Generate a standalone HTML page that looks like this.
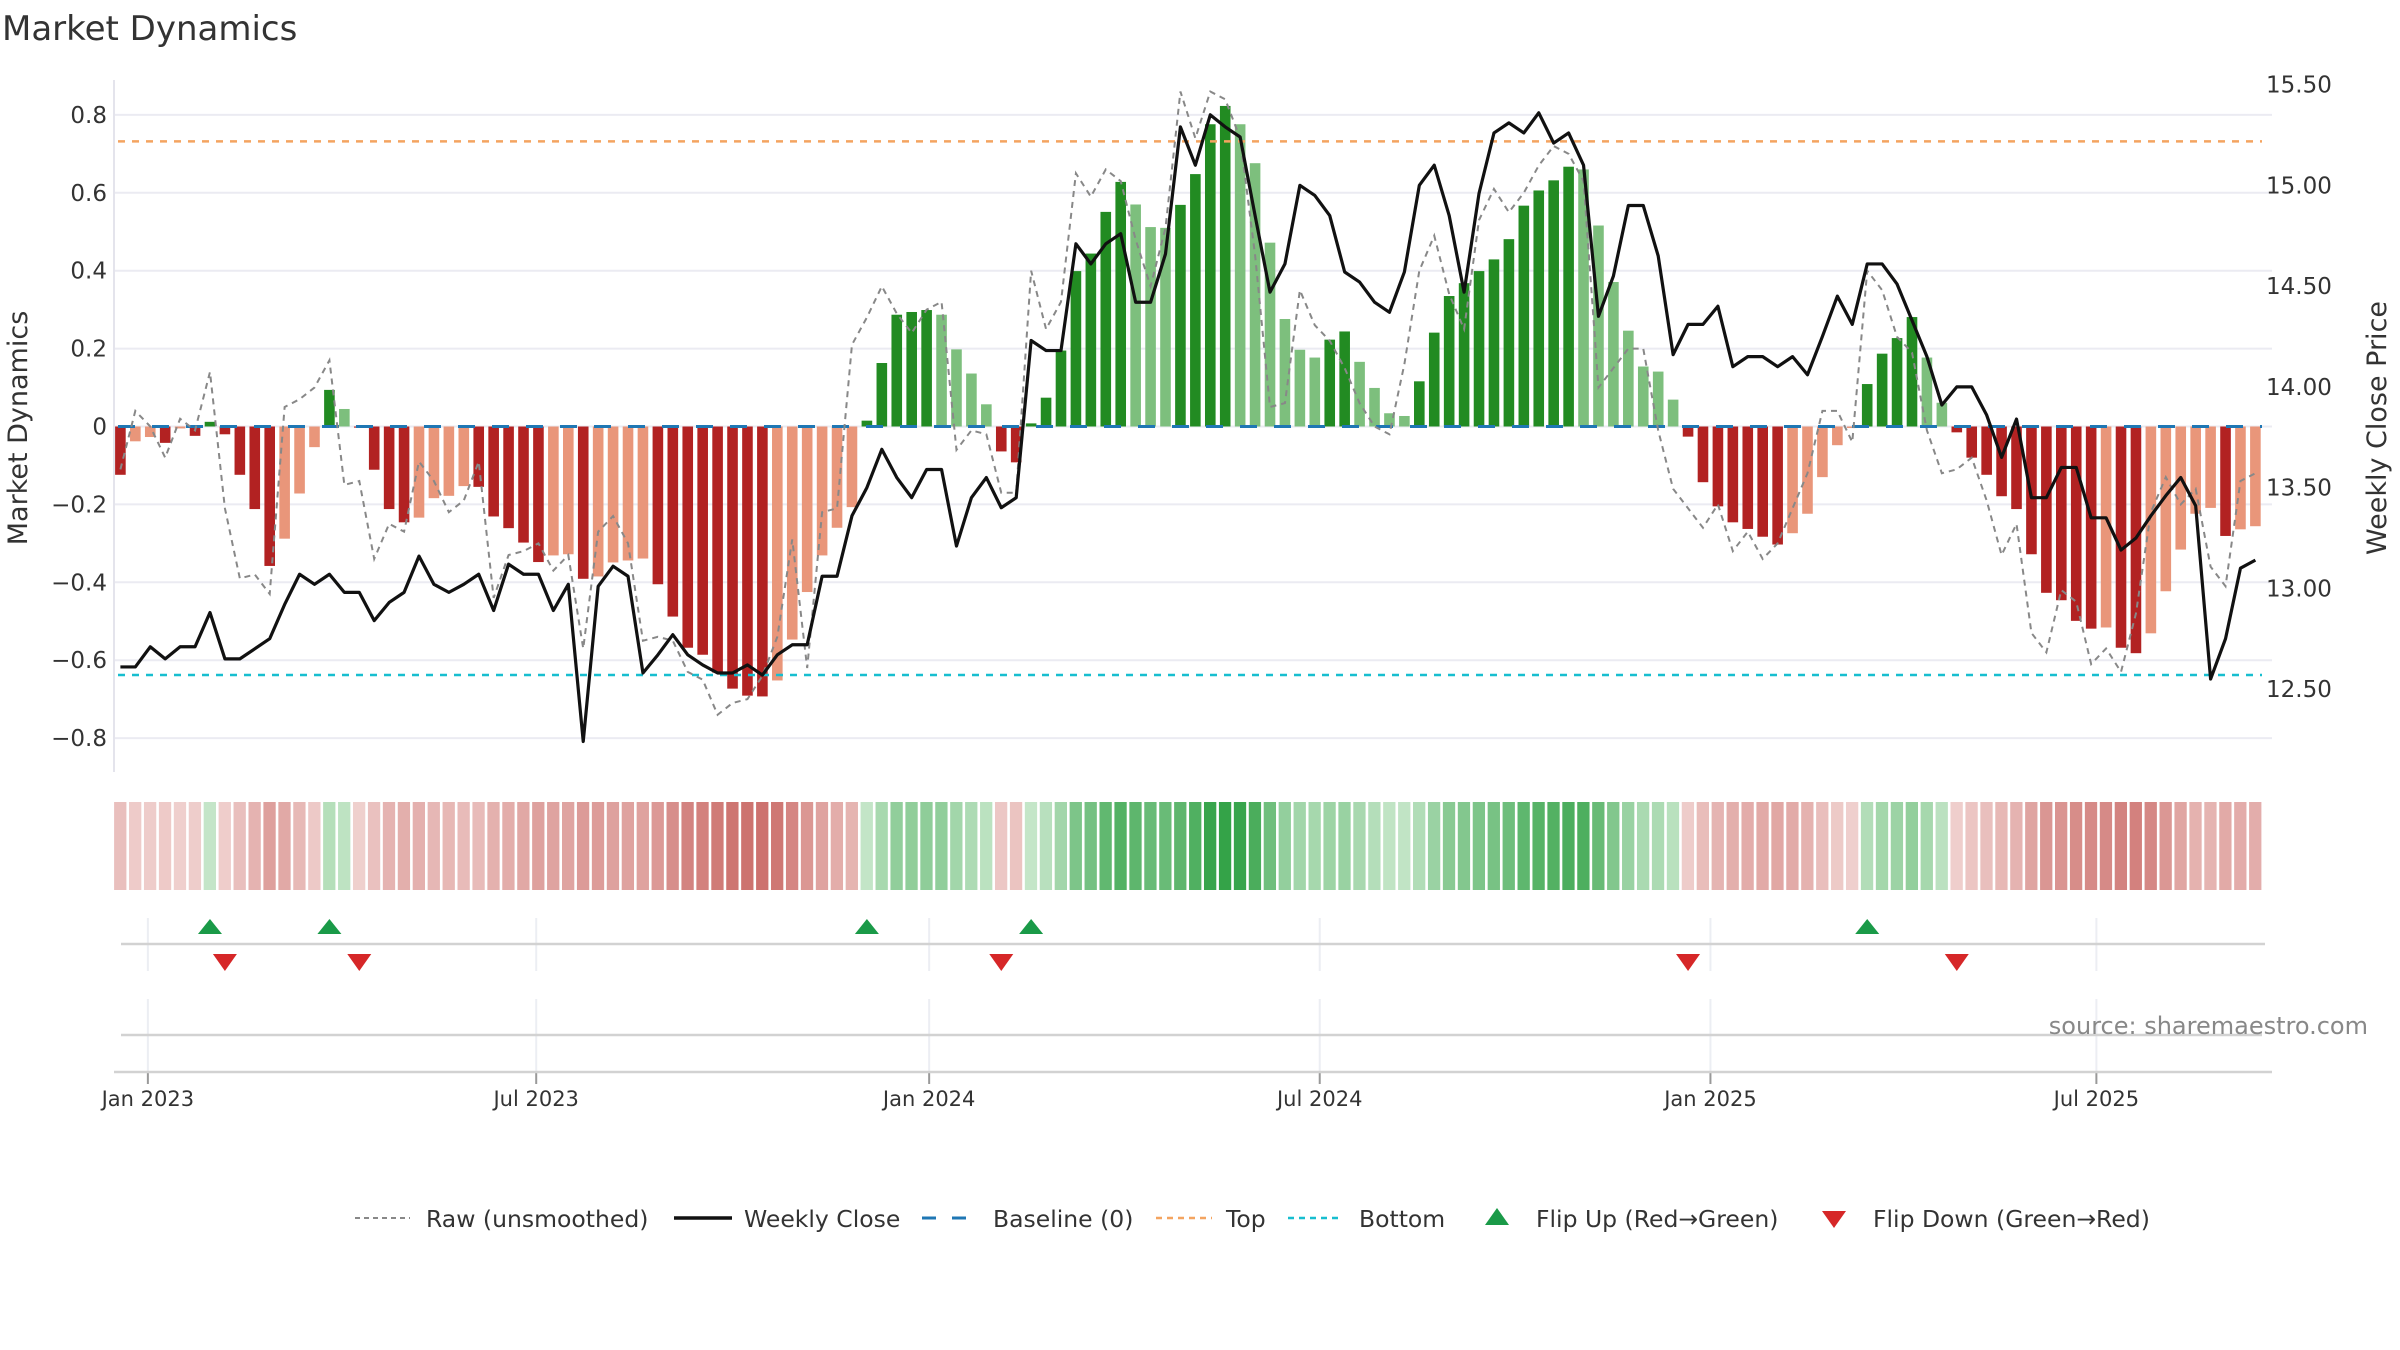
<!DOCTYPE html>
<html><head><meta charset="utf-8"><title>Market Dynamics</title>
<style>
html,body{margin:0;padding:0;background:#fff;}
svg{display:block;font-family:"DejaVu Sans","Liberation Sans",sans-serif;}
</style></head>
<body>
<svg id="chart" width="2400" height="1350" viewBox="0 0 2400 1350" xmlns="http://www.w3.org/2000/svg">
<text x="2" y="40" font-size="34" fill="#333">Market Dynamics</text>
<g id="grid"></g>
<g id="bars"></g>
<g id="lines"></g>
<g id="axes"></g>
<g id="heat"></g>
<g id="flips"></g>
<g id="legend"></g>
<text x="2368" y="1034" font-size="24" fill="#888" text-anchor="end">source: sharemaestro.com</text>
</svg>
<script>
const dynamics = [-0.124,-0.038,-0.027,-0.042,-0.005,-0.024,0.012,-0.02,-0.124,-0.212,-0.358,-0.288,-0.172,-0.053,0.094,0.045,-0.003,-0.111,-0.212,-0.246,-0.234,-0.184,-0.178,-0.153,-0.155,-0.231,-0.261,-0.298,-0.348,-0.331,-0.328,-0.391,-0.385,-0.349,-0.344,-0.339,-0.405,-0.488,-0.568,-0.586,-0.632,-0.673,-0.691,-0.693,-0.652,-0.547,-0.425,-0.331,-0.26,-0.207,0.015,0.163,0.287,0.294,0.299,0.287,0.198,0.136,0.057,-0.064,-0.092,0.008,0.074,0.195,0.399,0.444,0.551,0.628,0.57,0.512,0.51,0.569,0.648,0.776,0.823,0.776,0.676,0.472,0.276,0.197,0.177,0.223,0.244,0.166,0.099,0.034,0.027,0.116,0.241,0.335,0.368,0.399,0.429,0.481,0.567,0.606,0.632,0.667,0.66,0.516,0.371,0.246,0.154,0.141,0.069,-0.026,-0.143,-0.205,-0.246,-0.263,-0.283,-0.303,-0.274,-0.224,-0.13,-0.048,-0.004,0.109,0.187,0.227,0.281,0.177,0.061,-0.015,-0.08,-0.124,-0.179,-0.212,-0.328,-0.427,-0.446,-0.499,-0.519,-0.516,-0.568,-0.582,-0.531,-0.423,-0.316,-0.224,-0.209,-0.281,-0.264,-0.256];
const rawValues = [-0.11,0.04,0,-0.08,0.02,-0.01,0.14,-0.21,-0.39,-0.38,-0.43,0.05,0.07,0.1,0.17,-0.15,-0.14,-0.34,-0.25,-0.27,-0.09,-0.14,-0.22,-0.19,-0.09,-0.44,-0.33,-0.32,-0.3,-0.37,-0.33,-0.57,-0.27,-0.23,-0.3,-0.55,-0.54,-0.55,-0.63,-0.65,-0.74,-0.71,-0.7,-0.64,-0.54,-0.29,-0.62,-0.22,-0.21,0.21,0.28,0.36,0.29,0.24,0.3,0.32,-0.06,-0.01,-0.02,-0.17,-0.17,0.4,0.25,0.32,0.65,0.59,0.66,0.63,0.48,0.36,0.51,0.86,0.74,0.86,0.84,0.74,0.44,0.05,0.06,0.35,0.26,0.22,0.15,0.06,0,-0.02,0.16,0.4,0.49,0.34,0.25,0.53,0.61,0.55,0.6,0.67,0.72,0.7,0.63,0.1,0.15,0.2,0.2,-0.01,-0.16,-0.21,-0.26,-0.2,-0.32,-0.27,-0.34,-0.3,-0.21,-0.12,0.04,0.04,-0.04,0.4,0.35,0.23,0.19,-0.01,-0.12,-0.11,-0.08,-0.19,-0.33,-0.25,-0.53,-0.58,-0.42,-0.45,-0.61,-0.57,-0.63,-0.48,-0.22,-0.13,-0.2,-0.16,-0.36,-0.41,-0.14,-0.12];
const closePrices = [12.61,12.61,12.71,12.65,12.71,12.71,12.88,12.65,12.65,12.7,12.75,12.92,13.07,13.02,13.07,12.98,12.98,12.84,12.93,12.98,13.16,13.02,12.98,13.02,13.07,12.89,13.12,13.07,13.07,12.89,13.02,12.24,13.01,13.11,13.06,12.58,12.67,12.77,12.67,12.62,12.58,12.58,12.62,12.57,12.67,12.72,12.72,13.06,13.06,13.36,13.5,13.69,13.55,13.45,13.59,13.59,13.21,13.45,13.55,13.4,13.45,14.23,14.18,14.18,14.71,14.61,14.71,14.76,14.42,14.42,14.66,15.29,15.1,15.35,15.29,15.24,14.85,14.47,14.61,15,14.95,14.85,14.57,14.52,14.42,14.37,14.57,15,15.1,14.85,14.47,14.96,15.26,15.31,15.26,15.36,15.21,15.26,15.1,14.35,14.55,14.9,14.9,14.65,14.16,14.31,14.31,14.4,14.1,14.15,14.15,14.1,14.15,14.06,14.25,14.45,14.31,14.61,14.61,14.51,14.33,14.15,13.91,14,14,13.86,13.65,13.84,13.45,13.45,13.6,13.6,13.35,13.35,13.19,13.25,13.36,13.46,13.55,13.41,12.55,12.75,13.1,13.14];
const leftTicks = [0.8,0.6,0.4,0.2,0,-0.2,-0.4,-0.6,-0.8];
const leftTickLabels = ["0.8","0.6","0.4","0.2","0","\u22120.2","\u22120.4","\u22120.6","\u22120.8"];
const rightTicks = [15.5,15.0,14.5,14.0,13.5,13.0,12.5];
const rightTickLabels = ["15.50","15.00","14.50","14.00","13.50","13.00","12.50"];
const dateTickIdx = [1.84,27.85,54.17,80.33,106.5,132.35];
const dateTickLabels = ["Jan 2023","Jul 2023","Jan 2024","Jul 2024","Jan 2025","Jul 2025"];
const topLevel = 0.732;
const bottomLevel = -0.638;

const NS="http://www.w3.org/2000/svg";
function mk(tag,attrs,parent){const e=document.createElementNS(NS,tag);for(const k in attrs)e.setAttribute(k,attrs[k]);parent.appendChild(e);return e;}
const X0=120.4, DX=14.93;
function xs(i){return X0+i*DX;}
function yl(v){return 426.5-v*389.5;}
function yr(p){return 84.6+(15.5-p)*201.5;}

const grid=document.getElementById('grid');
leftTicks.forEach((t,k)=>{
  const l=mk('line',{x1:114,x2:2272,y1:yl(t),y2:yl(t),stroke:'#ebebf2','stroke-width':2},grid);
  
  
});
const axes=document.getElementById('axes');
const sp=mk('line',{x1:114,x2:114,y1:80,y2:772,stroke:'#e4e4ec','stroke-width':2},axes);


leftTicks.forEach((t,k)=>{
  const tx=mk('text',{x:107,y:yl(t)+8,'font-size':23,fill:'#333','text-anchor':'end'},axes);
  tx.textContent=leftTickLabels[k];
  
  
});
rightTicks.forEach((t,k)=>{
  const tx=mk('text',{x:2266,y:yr(t)+8,'font-size':23,fill:'#333'},axes);
  tx.textContent=rightTickLabels[k];
  
  
});
const lt=mk('text',{x:0,y:0,'font-size':27,fill:'#333','text-anchor':'middle',transform:'translate(27,428) rotate(-90)'},axes);
lt.textContent='Market Dynamics';


const rt=mk('text',{x:0,y:0,'font-size':27,fill:'#333','text-anchor':'middle',transform:'translate(2386,428) rotate(-90)'},axes);
rt.textContent='Weekly Close Price';



const bars=document.getElementById('bars');
dynamics.forEach((v,i)=>{
  const prev=i>0?dynamics[i-1]:0;
  const strong=(Math.sign(v)!==Math.sign(prev))||Math.abs(v)>=Math.abs(prev);
  let c;
  if(v>=0)c=strong?'#228b22':'#7dbf7d'; else c=strong?'#b22222':'#e9967a';
  const y0=yl(0),y1=yl(v);
  const r=mk('rect',{x:xs(i)-5.3,width:10.6,y:Math.min(y0,y1),height:Math.max(0.5,Math.abs(y1-y0)),fill:c},bars);
  
  
});

const lines=document.getElementById('lines');
const tl=mk('line',{x1:118,x2:2262,y1:yl(topLevel),y2:yl(topLevel),stroke:'#f4a460','stroke-width':2.5,'stroke-dasharray':'7 7'},lines);


const bl=mk('line',{x1:118,x2:2262,y1:yl(bottomLevel),y2:yl(bottomLevel),stroke:'#17becf','stroke-width':2.5,'stroke-dasharray':'7 7'},lines);


const base=mk('line',{x1:118,x2:2262,y1:yl(0),y2:yl(0),stroke:'#1f77b4','stroke-width':3,'stroke-dasharray':'17 17'},lines);


const rawP=mk('polyline',{points:rawValues.map((v,i)=>xs(i)+','+yl(v)).join(' '),fill:'none',stroke:'#888','stroke-width':2,'stroke-dasharray':'6 5'},lines);


const cl=mk('polyline',{points:closePrices.map((p,i)=>xs(i)+','+yr(p)).join(' '),fill:'none',stroke:'#111','stroke-width':3.2,'stroke-linejoin':'round'},lines);



const heat=document.getElementById('heat');
function mix(a,b,t){return 'rgb('+a.map((x,k)=>Math.round(x+(b[k]-x)*t)).join(',')+')';}
dynamics.forEach((v,i)=>{
  const t=Math.min(1,Math.abs(v)/0.8);
  const c=v>=0?mix([214,238,216],[52,163,72],0.1+0.9*t):mix([244,220,218],[200,100,96],0.1+0.9*t);
  const r=mk('rect',{x:xs(i)-6.3,width:12.3,y:802,height:88,fill:c},heat);
  
  
});

const fl=document.getElementById('flips');
dateTickIdx.forEach((d,k)=>{
  const x=xs(d);
  const g1=mk('line',{x1:x,x2:x,y1:918,y2:971,stroke:'#eceef3','stroke-width':2},fl);
  
  
  const g2=mk('line',{x1:x,x2:x,y1:999,y2:1072,stroke:'#eceef3','stroke-width':2},fl);
  
  
  const tk=mk('line',{x1:x,x2:x,y1:1072,y2:1084,stroke:'#999','stroke-width':2},fl);
  
  
  const tx=mk('text',{x:x,y:1106,'font-size':21,fill:'#333','text-anchor':'middle'},fl);
  tx.textContent=dateTickLabels[k];
  
  
});
[[944,2265],[1035,2262],[1072,2272]].forEach(([y,x2],k)=>{
  const l=mk('line',{x1:k==2?114:121,x2:x2,y1:y,y2:y,stroke:'#d2d2d2','stroke-width':2.5},fl);
  
  
});
for(let i=1;i<dynamics.length;i++){
  const a=dynamics[i-1],b=dynamics[i];
  if(a<0&&b>=0){
    const x=xs(i);
    const t=mk('polygon',{points:(x-12)+',934 '+(x+12)+',934 '+x+',919',fill:'#1a9a48'},fl);
    
    
  } else if(a>=0&&b<0){
    const x=xs(i);
    const t=mk('polygon',{points:(x-12)+',954 '+(x+12)+',954 '+x+',971',fill:'#d62728'},fl);
    
    
  }
}

const lg=document.getElementById('legend');
function legText(x,s){const t=mk('text',{x:x,y:1227,'font-size':23.5,fill:'#333'},lg);t.textContent=s;}
let e;
e=mk('line',{x1:355,x2:410,y1:1218,y2:1218,stroke:'#888','stroke-width':2,'stroke-dasharray':'5 4'},lg);


legText(426,'Raw (unsmoothed)');
e=mk('line',{x1:674,x2:732,y1:1218,y2:1218,stroke:'#111','stroke-width':3.5},lg);


legText(744,'Weekly Close');
e=mk('line',{x1:922,x2:980,y1:1218,y2:1218,stroke:'#1f77b4','stroke-width':3,'stroke-dasharray':'14 16'},lg);


legText(993,'Baseline (0)');
e=mk('line',{x1:1156,x2:1212,y1:1218,y2:1218,stroke:'#f4a460','stroke-width':2.5,'stroke-dasharray':'6 5'},lg);


legText(1226,'Top');
e=mk('line',{x1:1288,x2:1343,y1:1218,y2:1218,stroke:'#17becf','stroke-width':2.5,'stroke-dasharray':'6 5'},lg);


legText(1359,'Bottom');
e=mk('polygon',{points:'1485,1225 1509,1225 1497,1208',fill:'#1a9a48'},lg);


legText(1536,'Flip Up (Red\u2192Green)');
e=mk('polygon',{points:'1822,1211 1846,1211 1834,1228',fill:'#d62728'},lg);


legText(1873,'Flip Down (Green\u2192Red)');
</script>
</body></html>
